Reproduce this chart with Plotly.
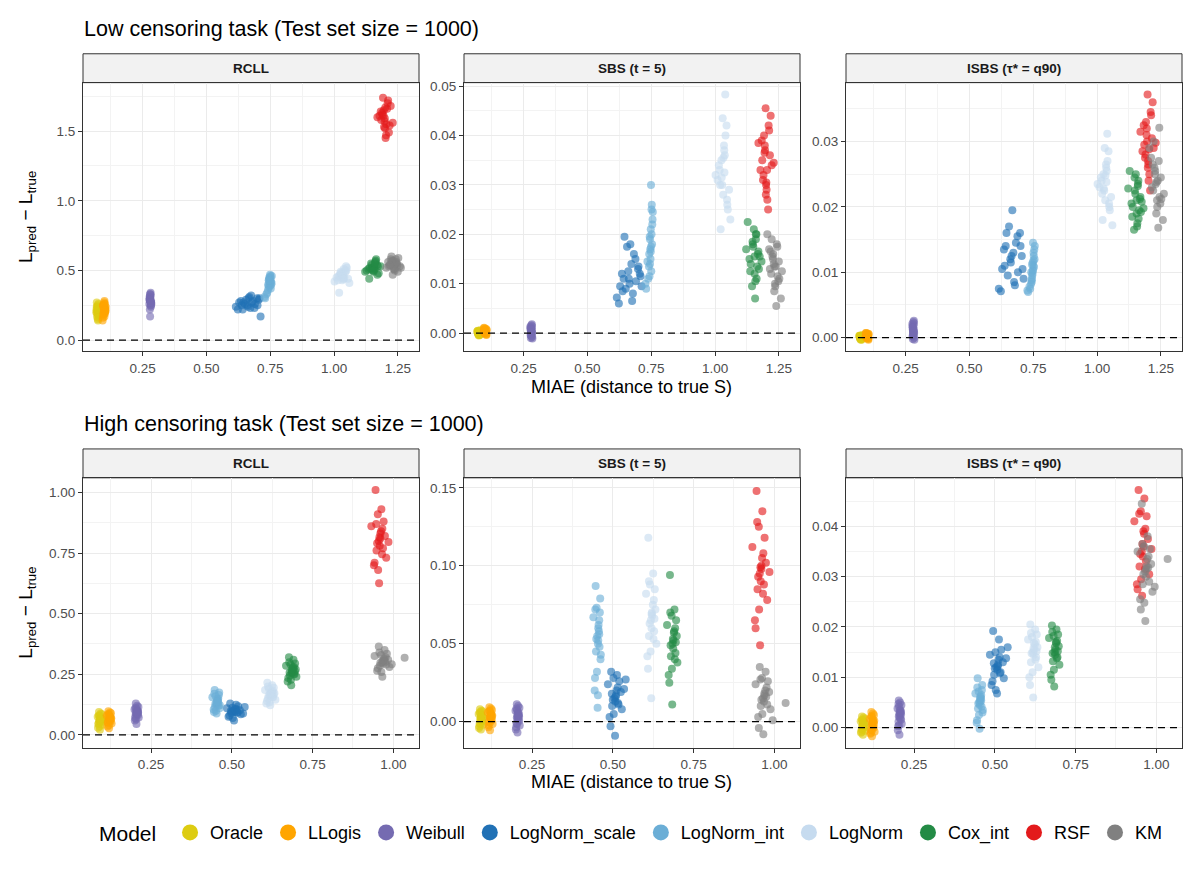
import plotly.graph_objects as go

# ---------------- data ----------------
MODELS = ["Oracle", "LLogis", "Weibull", "LogNorm_scale", "LogNorm_int",
          "LogNorm", "Cox_int", "RSF", "KM"]
COLORS = ["#DDCC11", "#FFA500", "#756BB1", "#2171B5", "#6BAED6",
          "#C6DBEF", "#238B45", "#E31A1C", "#808080"]
METRICS = ["RCLL", "SBS (t = 5)", "ISBS (τ* = q90)"]
TASKS = ["Low censoring task (Test set size = 1000)",
         "High censoring task (Test set size = 1000)"]

# ---- Low censoring task: MIAE (x), shared by the three metrics ----
lx_oracle = [0.072,0.075,0.070,0.078,0.074,0.069,0.076,0.073,0.080,0.071,0.077,0.074,0.068,0.075,0.079,0.072,0.076,0.070,0.074,0.078,0.073,0.071,0.077,0.075]
lx_llogis = [0.098,0.101,0.095,0.103,0.099,0.094,0.102,0.097,0.105,0.096,0.100,0.104,0.093,0.099,0.102,0.097,0.101,0.095,0.103,0.098,0.100,0.096,0.104,0.099]
lx_weibull = [0.279,0.281,0.277,0.283,0.280,0.278,0.282,0.279,0.276,0.281,0.283,0.278,0.280,0.282,0.277,0.279,0.281,0.284,0.278,0.280,0.282,0.279,0.277,0.281]
lx_lnscale = [0.615,0.628,0.642,0.655,0.660,0.668,0.672,0.645,0.638,0.682,0.690,0.698,0.705,0.712,0.675,0.662,0.650,0.635,0.688,0.678,0.665,0.700,0.623,0.708]
lx_lnint = [0.742,0.748,0.751,0.745,0.753,0.749,0.738,0.755,0.746,0.750,0.744,0.752,0.730,0.727,0.747,0.754,0.741,0.749,0.756,0.743,0.751,0.735,0.748,0.745]
lx_lnorm = [1.010,1.025,1.032,1.041,1.018,1.050,1.036,1.028,1.045,1.002,1.022,1.038,1.055,1.030,1.015,1.047,1.035,1.060,1.026,1.040,1.020,1.033,1.048,1.037]
lx_cox = [1.135,1.148,1.155,1.162,1.140,1.170,1.158,1.128,1.165,1.150,1.175,1.145,1.160,1.182,1.138,1.152,1.168,1.157,1.122,1.163,1.147,1.172,1.155,1.160]
lx_rsf = [1.185,1.195,1.200,1.210,1.178,1.205,1.192,1.215,1.188,1.198,1.222,1.202,1.170,1.208,1.196,1.190,1.212,1.230,1.199,1.183,1.204,1.194,1.218,1.201]
lx_km = [1.215,1.228,1.235,1.242,1.220,1.250,1.232,1.205,1.245,1.225,1.258,1.238,1.212,1.248,1.230,1.222,1.262,1.240,1.227,1.236,1.218,1.252,1.233,1.244]

# ---- Low censoring task: RCLL ----
l_rcll_oracle = [0.21,0.18,0.24,0.20,0.15,0.22,0.26,0.19,0.23,0.17,0.21,0.25,0.20,0.14,0.22,0.24,0.19,0.27,0.21,0.18,0.23,0.20,0.16,0.22]
l_rcll_llogis = [0.22,0.19,0.25,0.21,0.27,0.16,0.23,0.20,0.24,0.18,0.28,0.22,0.14,0.21,0.26,0.19,0.23,0.25,0.20,0.22,0.17,0.24,0.21,0.26]
l_rcll_weibull = [0.28,0.25,0.31,0.27,0.33,0.29,0.24,0.30,0.26,0.34,0.28,0.22,0.31,0.27,0.29,0.17,0.32,0.26,0.30,0.28,0.25,0.33,0.29,0.27]
l_rcll_lnscale = [0.24,0.27,0.22,0.29,0.25,0.31,0.23,0.27,0.25,0.28,0.26,0.30,0.29,0.17,0.32,0.24,0.26,0.28,0.23,0.27,0.30,0.25,0.22,0.30]
l_rcll_lnint = [0.40,0.44,0.46,0.38,0.42,0.47,0.34,0.41,0.45,0.39,0.43,0.37,0.30,0.31,0.44,0.40,0.36,0.42,0.46,0.39,0.45,0.33,0.41,0.43]
l_rcll_lnorm = [0.45,0.48,0.43,0.50,0.46,0.52,0.44,0.47,0.49,0.42,0.46,0.51,0.44,0.48,0.43,0.53,0.46,0.41,0.49,0.45,0.34,0.47,0.50,0.44]
l_rcll_cox = [0.51,0.54,0.49,0.56,0.52,0.47,0.53,0.50,0.58,0.52,0.48,0.55,0.51,0.53,0.44,0.50,0.54,0.52,0.49,0.57,0.51,0.53,0.50,0.55]
l_rcll_rsf = [1.58,1.65,1.52,1.70,1.61,1.55,1.74,1.49,1.63,1.57,1.68,1.45,1.60,1.66,1.53,1.62,1.72,1.56,1.59,1.64,1.47,1.61,1.54,1.67]
l_rcll_km = [0.53,0.56,0.51,0.58,0.54,0.49,0.57,0.52,0.55,0.60,0.53,0.50,0.56,0.54,0.47,0.58,0.52,0.55,0.57,0.51,0.54,0.59,0.53,0.56]

# ---- Low censoring task: SBS (t = 5) ----
l_sbs_oracle = [0.0002,-0.0003,0.0005,0.0000,-0.0005,0.0003,0.0001,-0.0002,0.0006,0.0000,-0.0004,0.0002,0.0004,-0.0001,0.0001,-0.0003,0.0003,0.0000,0.0005,-0.0002,0.0002,0.0001,-0.0004,0.0003]
l_sbs_llogis = [0.0004,0.0001,0.0008,-0.0003,0.0005,0.0010,0.0002,-0.0001,0.0006,0.0003,0.0009,-0.0004,0.0004,0.0007,0.0000,0.0005,0.0002,0.0011,-0.0002,0.0006,0.0003,0.0001,0.0008,0.0004]
l_sbs_weibull = [0.0004,-0.0006,0.0011,0.0001,0.0016,-0.0010,0.0007,-0.0002,0.0013,0.0003,-0.0008,0.0009,0.0000,0.0018,-0.0004,0.0006,0.0010,-0.0011,0.0005,0.0002,0.0014,-0.0005,0.0008,0.0001]
l_sbs_lnscale = [0.0072,0.0095,0.0110,0.0175,0.0125,0.0180,0.0140,0.0195,0.0085,0.0160,0.0105,0.0130,0.0120,0.0095,0.0065,0.0110,0.0090,0.0120,0.0150,0.0080,0.0100,0.0135,0.0060,0.0115]
l_sbs_lnint = [0.0160,0.0210,0.0250,0.0140,0.0180,0.0300,0.0110,0.0230,0.0170,0.0125,0.0195,0.0260,0.0090,0.0100,0.0150,0.0220,0.0135,0.0175,0.0245,0.0115,0.0200,0.0145,0.0165,0.0190]
l_sbs_lnorm = [0.0310,0.0350,0.0280,0.0400,0.0330,0.0250,0.0370,0.0300,0.0420,0.0320,0.0210,0.0360,0.0290,0.0435,0.0340,0.0270,0.0380,0.0230,0.0315,0.0483,0.0300,0.0355,0.0260,0.0325]
l_sbs_cox = [0.0150,0.0180,0.0120,0.0200,0.0140,0.0165,0.0105,0.0225,0.0135,0.0175,0.0155,0.0095,0.0190,0.0145,0.0125,0.0210,0.0160,0.0070,0.0170,0.0110,0.0185,0.0130,0.0155,0.0200]
l_sbs_rsf = [0.0350,0.0380,0.0300,0.0420,0.0330,0.0270,0.0400,0.0360,0.0310,0.0455,0.0340,0.0290,0.0385,0.0250,0.0370,0.0320,0.0410,0.0345,0.0280,0.0390,0.0330,0.0365,0.0440,0.0305]
l_sbs_km = [0.0130,0.0160,0.0100,0.0180,0.0120,0.0145,0.0085,0.0200,0.0115,0.0155,0.0070,0.0135,0.0170,0.0105,0.0140,0.0190,0.0125,0.0055,0.0150,0.0095,0.0165,0.0110,0.0135,0.0175]

# ---- Low censoring task: ISBS (tau* = q90) ----
l_isbs_oracle = [0.0001,-0.0002,0.0003,0.0000,-0.0003,0.0002,0.0001,-0.0001,0.0004,0.0000,-0.0002,0.0002,0.0003,-0.0001,0.0001,-0.0002,0.0002,0.0000,0.0003,-0.0001,0.0002,0.0001,-0.0003,0.0002]
l_isbs_llogis = [0.0003,0.0001,0.0006,-0.0002,0.0004,0.0007,0.0002,-0.0001,0.0005,0.0002,0.0006,-0.0003,0.0003,0.0005,0.0000,0.0004,0.0001,0.0007,-0.0001,0.0004,0.0002,0.0001,0.0006,0.0003]
l_isbs_weibull = [0.0010,0.0004,0.0018,0.0007,0.0024,-0.0002,0.0013,0.0005,0.0021,0.0009,0.0000,0.0016,0.0006,0.0026,0.0002,0.0011,0.0019,-0.0003,0.0012,0.0008,0.0022,0.0003,0.0015,0.0010]
l_isbs_lnscale = [0.0075,0.0105,0.0140,0.0170,0.0120,0.0195,0.0130,0.0160,0.0110,0.0145,0.0100,0.0160,0.0125,0.0090,0.0085,0.0115,0.0095,0.0135,0.0155,0.0080,0.0125,0.0140,0.0071,0.0105]
l_isbs_lnint = [0.0100,0.0115,0.0130,0.0090,0.0108,0.0145,0.0075,0.0120,0.0095,0.0110,0.0085,0.0125,0.0070,0.0072,0.0098,0.0135,0.0082,0.0104,0.0140,0.0088,0.0118,0.0078,0.0102,0.0112]
l_isbs_lnorm = [0.0230,0.0250,0.0210,0.0270,0.0240,0.0195,0.0260,0.0225,0.0285,0.0235,0.0180,0.0255,0.0215,0.0290,0.0245,0.0205,0.0265,0.0172,0.0228,0.0312,0.0220,0.0248,0.0200,0.0238]
l_isbs_cox = [0.0205,0.0225,0.0190,0.0240,0.0200,0.0215,0.0175,0.0255,0.0195,0.0220,0.0208,0.0165,0.0235,0.0198,0.0185,0.0250,0.0212,0.0170,0.0228,0.0182,0.0245,0.0192,0.0210,0.0232]
l_isbs_rsf = [0.0295,0.0320,0.0270,0.0345,0.0285,0.0250,0.0330,0.0305,0.0275,0.0372,0.0290,0.0240,0.0315,0.0225,0.0300,0.0280,0.0340,0.0298,0.0260,0.0325,0.0288,0.0310,0.0360,0.0265]
l_isbs_km = [0.0230,0.0255,0.0210,0.0270,0.0225,0.0245,0.0190,0.0290,0.0215,0.0260,0.0180,0.0240,0.0275,0.0205,0.0235,0.0300,0.0220,0.0168,0.0250,0.0200,0.0265,0.0212,0.0238,0.0321]

# ---- High censoring task: MIAE (x) ----
hx_oracle = [0.091,0.094,0.088,0.097,0.092,0.086,0.095,0.090,0.099,0.089,0.093,0.096,0.085,0.092,0.098,0.090,0.094,0.087,0.093,0.097,0.091,0.089,0.095,0.092]
hx_llogis = [0.120,0.123,0.117,0.126,0.121,0.115,0.124,0.119,0.128,0.118,0.122,0.125,0.113,0.120,0.127,0.119,0.123,0.116,0.122,0.126,0.120,0.118,0.124,0.121]
hx_weibull = [0.205,0.208,0.202,0.211,0.206,0.200,0.209,0.204,0.212,0.203,0.207,0.210,0.199,0.205,0.209,0.203,0.207,0.201,0.206,0.210,0.204,0.202,0.208,0.205]
hx_lnscale = [0.505,0.512,0.498,0.520,0.508,0.490,0.515,0.502,0.528,0.495,0.510,0.518,0.485,0.507,0.525,0.500,0.513,0.493,0.535,0.509,0.503,0.540,0.516,0.497]
hx_lnint = [0.452,0.456,0.448,0.460,0.454,0.445,0.458,0.450,0.462,0.447,0.455,0.459,0.440,0.453,0.457,0.449,0.461,0.444,0.455,0.458,0.451,0.446,0.463,0.454]
hx_lnorm = [0.618,0.624,0.612,0.630,0.620,0.607,0.627,0.615,0.635,0.610,0.622,0.628,0.603,0.619,0.632,0.614,0.625,0.609,0.621,0.629,0.617,0.612,0.626,0.620]
hx_cox = [0.685,0.690,0.680,0.696,0.687,0.673,0.693,0.682,0.700,0.677,0.688,0.694,0.668,0.684,0.698,0.679,0.691,0.675,0.689,0.695,0.683,0.678,0.692,0.686]
hx_rsf = [0.955,0.962,0.948,0.970,0.958,0.940,0.966,0.952,0.978,0.945,0.960,0.968,0.932,0.956,0.974,0.950,0.963,0.942,0.960,0.985,0.953,0.947,0.965,0.957]
hx_km = [0.965,0.972,0.958,0.980,0.968,0.950,0.976,0.962,0.988,0.955,0.970,0.978,0.942,0.966,0.984,0.960,0.973,0.952,1.035,0.975,0.963,0.957,0.995,0.969]

# ---- High censoring task: RCLL ----
h_rcll_oracle = [0.060,0.072,0.048,0.085,0.055,0.030,0.068,0.078,0.042,0.095,0.062,0.052,0.075,0.022,0.065,0.058,0.088,0.045,0.070,0.063,0.035,0.080,0.057,0.066]
h_rcll_llogis = [0.065,0.078,0.052,0.090,0.060,0.035,0.072,0.083,0.047,0.098,0.066,0.056,0.080,0.028,0.069,0.062,0.093,0.050,0.075,0.068,0.040,0.086,0.061,0.071]
h_rcll_weibull = [0.090,0.102,0.078,0.115,0.085,0.060,0.098,0.108,0.072,0.130,0.092,0.082,0.105,0.045,0.095,0.088,0.120,0.070,0.100,0.093,0.065,0.112,0.087,0.096]
h_rcll_lnscale = [0.100,0.108,0.090,0.118,0.095,0.075,0.105,0.112,0.085,0.130,0.098,0.092,0.110,0.060,0.102,0.096,0.125,0.080,0.088,0.104,0.070,0.115,0.094,0.099]
h_rcll_lnint = [0.130,0.145,0.115,0.165,0.125,0.095,0.150,0.160,0.110,0.185,0.135,0.120,0.155,0.088,0.140,0.128,0.175,0.105,0.148,0.133,0.100,0.170,0.122,0.138]
h_rcll_lnorm = [0.165,0.178,0.150,0.195,0.160,0.130,0.182,0.190,0.145,0.215,0.168,0.155,0.185,0.122,0.172,0.162,0.205,0.140,0.175,0.168,0.135,0.200,0.158,0.170]
h_rcll_cox = [0.260,0.275,0.245,0.295,0.255,0.220,0.280,0.290,0.240,0.320,0.265,0.250,0.285,0.205,0.270,0.258,0.310,0.235,0.278,0.262,0.228,0.300,0.252,0.268]
h_rcll_rsf = [0.800,0.840,0.760,0.880,0.780,0.700,0.850,0.910,0.730,1.010,0.810,0.770,0.860,0.625,0.820,0.790,0.930,0.710,0.830,0.795,0.680,0.870,0.745,0.815]
h_rcll_km = [0.300,0.315,0.285,0.335,0.295,0.265,0.320,0.330,0.280,0.365,0.305,0.290,0.325,0.240,0.310,0.298,0.350,0.275,0.318,0.302,0.260,0.340,0.292,0.308]

# ---- High censoring task: SBS (t = 5) ----
h_sbs_oracle = [0.0020,0.0045,-0.0010,0.0065,0.0010,-0.0040,0.0035,0.0055,-0.0020,0.0080,0.0025,0.0000,0.0050,-0.0050,0.0030,0.0015,0.0070,-0.0030,0.0040,0.0022,-0.0015,0.0060,0.0005,0.0028]
h_sbs_llogis = [0.0030,0.0055,0.0000,0.0075,0.0020,-0.0035,0.0045,0.0065,-0.0015,0.0092,0.0035,0.0010,0.0060,-0.0055,0.0040,0.0025,0.0085,-0.0025,0.0050,0.0032,-0.0005,0.0070,0.0015,0.0038]
h_sbs_weibull = [0.0030,0.0060,-0.0010,0.0090,0.0020,-0.0050,0.0050,0.0075,-0.0025,0.0112,0.0035,0.0005,0.0070,-0.0070,0.0040,0.0025,0.0100,-0.0035,0.0055,0.0032,-0.0015,0.0085,0.0012,0.0045]
h_sbs_lnscale = [0.015,0.020,0.010,0.026,0.013,0.003,0.022,0.028,0.008,0.032,0.017,0.011,0.024,-0.009,0.019,0.014,0.030,-0.003,0.021,0.016,0.005,0.027,0.012,0.018]
h_sbs_lnint = [0.055,0.062,0.045,0.070,0.050,0.028,0.065,0.073,0.040,0.087,0.052,0.048,0.067,0.009,0.058,0.053,0.079,0.020,0.060,0.056,0.032,0.072,0.043,0.017]
h_sbs_lnorm = [0.065,0.075,0.055,0.085,0.060,0.042,0.078,0.088,0.050,0.118,0.068,0.058,0.082,0.015,0.072,0.063,0.095,0.034,0.070,0.066,0.045,0.090,0.053,0.069]
h_sbs_cox = [0.050,0.058,0.042,0.065,0.047,0.030,0.060,0.068,0.038,0.094,0.052,0.044,0.062,0.011,0.055,0.049,0.072,0.025,0.057,0.051,0.034,0.070,0.040,0.053]
h_sbs_rsf = [0.095,0.105,0.085,0.118,0.090,0.065,0.108,0.125,0.078,0.148,0.098,0.088,0.112,0.049,0.102,0.093,0.135,0.060,0.100,0.096,0.072,0.128,0.082,0.099]
h_sbs_km = [0.015,0.020,0.010,0.026,0.013,0.003,0.022,0.028,0.008,0.035,0.017,0.011,0.024,-0.008,0.019,0.014,0.032,-0.004,0.012,0.016,0.005,0.027,0.001,0.018]

# ---- High censoring task: ISBS (tau* = q90) ----
h_isbs_oracle = [0.0005,0.0012,-0.0003,0.0018,0.0002,-0.0010,0.0009,0.0015,-0.0006,0.0022,0.0007,0.0000,0.0013,-0.0014,0.0010,0.0004,0.0020,-0.0008,0.0011,0.0006,-0.0004,0.0016,0.0001,0.0008]
h_isbs_llogis = [0.0007,0.0016,-0.0004,0.0025,0.0003,-0.0012,0.0012,0.0021,-0.0008,0.0031,0.0009,0.0000,0.0018,-0.0017,0.0014,0.0005,0.0028,-0.0010,0.0015,0.0008,-0.0005,0.0023,0.0002,0.0011]
h_isbs_weibull = [0.0025,0.0035,0.0012,0.0045,0.0020,-0.0005,0.0032,0.0042,0.0008,0.0054,0.0028,0.0016,0.0038,-0.0014,0.0030,0.0022,0.0050,0.0003,0.0034,0.0026,0.0005,0.0047,0.0018,0.0029]
h_isbs_lnscale = [0.0120,0.0135,0.0105,0.0155,0.0115,0.0085,0.0140,0.0150,0.0098,0.0192,0.0125,0.0110,0.0145,0.0068,0.0130,0.0118,0.0175,0.0092,0.0138,0.0122,0.0075,0.0160,0.0108,0.0128]
h_isbs_lnint = [0.0050,0.0062,0.0038,0.0075,0.0045,0.0015,0.0065,0.0072,0.0030,0.0098,0.0052,0.0042,0.0068,-0.0002,0.0058,0.0048,0.0085,0.0010,0.0060,0.0054,0.0025,0.0080,0.0035,0.0056]
h_isbs_lnorm = [0.0150,0.0165,0.0130,0.0185,0.0145,0.0100,0.0170,0.0180,0.0120,0.0205,0.0155,0.0140,0.0175,0.0060,0.0160,0.0148,0.0195,0.0085,0.0168,0.0152,0.0110,0.0188,0.0135,0.0158]
h_isbs_cox = [0.0150,0.0168,0.0132,0.0185,0.0145,0.0105,0.0172,0.0182,0.0125,0.0203,0.0155,0.0140,0.0178,0.0082,0.0162,0.0148,0.0195,0.0095,0.0170,0.0152,0.0115,0.0190,0.0138,0.0160]
h_isbs_rsf = [0.0350,0.0385,0.0320,0.0420,0.0340,0.0285,0.0395,0.0430,0.0305,0.0472,0.0360,0.0330,0.0410,0.0262,0.0375,0.0345,0.0455,0.0275,0.0390,0.0355,0.0295,0.0425,0.0315,0.0365]
h_isbs_km = [0.0310,0.0335,0.0285,0.0355,0.0300,0.0255,0.0340,0.0360,0.0270,0.0445,0.0315,0.0290,0.0350,0.0212,0.0325,0.0305,0.0380,0.0235,0.0335,0.0318,0.0248,0.0365,0.0280,0.0320]

LOW_X = [lx_oracle, lx_llogis, lx_weibull, lx_lnscale, lx_lnint, lx_lnorm, lx_cox, lx_rsf, lx_km]
HIGH_X = [hx_oracle, hx_llogis, hx_weibull, hx_lnscale, hx_lnint, hx_lnorm, hx_cox, hx_rsf, hx_km]
LOW_Y = [
    [l_rcll_oracle, l_rcll_llogis, l_rcll_weibull, l_rcll_lnscale, l_rcll_lnint, l_rcll_lnorm, l_rcll_cox, l_rcll_rsf, l_rcll_km],
    [l_sbs_oracle, l_sbs_llogis, l_sbs_weibull, l_sbs_lnscale, l_sbs_lnint, l_sbs_lnorm, l_sbs_cox, l_sbs_rsf, l_sbs_km],
    [l_isbs_oracle, l_isbs_llogis, l_isbs_weibull, l_isbs_lnscale, l_isbs_lnint, l_isbs_lnorm, l_isbs_cox, l_isbs_rsf, l_isbs_km],
]
HIGH_Y = [
    [h_rcll_oracle, h_rcll_llogis, h_rcll_weibull, h_rcll_lnscale, h_rcll_lnint, h_rcll_lnorm, h_rcll_cox, h_rcll_rsf, h_rcll_km],
    [h_sbs_oracle, h_sbs_llogis, h_sbs_weibull, h_sbs_lnscale, h_sbs_lnint, h_sbs_lnorm, h_sbs_cox, h_sbs_rsf, h_sbs_km],
    [h_isbs_oracle, h_isbs_llogis, h_isbs_weibull, h_isbs_lnscale, h_isbs_lnint, h_isbs_lnorm, h_isbs_cox, h_isbs_rsf, h_isbs_km],
]

# ---------------- layout geometry ----------------
W, H = 1200, 873
FONT = "Liberation Sans, Arial, Helvetica, sans-serif"
COL_PX = [(83, 419), (464, 800), (846, 1182)]
ROW_PX = [(79, 349), (476, 747)]
STRIP_H = 29
TITLE_Y = [25, 422]
XTITLE_Y = [385, 782]

X_RANGES = [[0.016, 1.333], [0.0395, 1.0795]]
Y_SETUP = [  # (range, dtick, format) per row, metric
    [([-0.081, 1.848], 0.5, ".1f"), ([-0.0037, 0.0507], 0.01, ".2f"), ([-0.0021, 0.0390], 0.01, ".2f")],
    [([-0.052, 1.060], 0.25, ".2f"), ([-0.0166, 0.1564], 0.05, ".2f"), ([-0.00395, 0.04963], 0.01, ".2f")],
]


def fx(p):
    return p / W


def fy(p):
    return 1 - p / H


fig = go.Figure()
shapes, annotations = [], []
layout = {}

tickfont = dict(family=FONT, size=13.5, color="#4D4D4D")
for r in range(2):
    xs_all = LOW_X if r == 0 else HIGH_X
    ys_all = LOW_Y if r == 0 else HIGH_Y
    top, bot = ROW_PX[r]
    for c in range(3):
        k = r * 3 + c + 1
        sx = "" if k == 1 else str(k)
        left, right = COL_PX[c]
        yr, ydt, yfmt = Y_SETUP[r][c]
        common = dict(showgrid=True, gridcolor="#EBEBEB", gridwidth=1, zeroline=False,
                      showline=True, mirror=True, linecolor="#333333", linewidth=1,
                      ticks="outside", ticklen=4, tickwidth=1, tickcolor="#333333",
                      tickfont=tickfont, fixedrange=True)
        layout["xaxis" + sx] = dict(common, domain=[fx(left), fx(right)], anchor="y" + sx,
                                    range=X_RANGES[r], tick0=0, dtick=0.25, tickformat=".2f",
                                    minor=dict(tick0=0, dtick=0.125, showgrid=True,
                                               gridcolor="#F3F3F3", gridwidth=1, ticks=""))
        layout["yaxis" + sx] = dict(common, domain=[fy(bot), fy(top)], anchor="x" + sx,
                                    range=yr, tick0=0, dtick=ydt, tickformat=yfmt,
                                    minor=dict(tick0=0, dtick=ydt / 2, showgrid=True,
                                               gridcolor="#F3F3F3", gridwidth=1, ticks=""))
        for m in range(len(MODELS)):
            fig.add_trace(go.Scatter(
                x=xs_all[m], y=ys_all[c][m], mode="markers",
                marker=dict(color=COLORS[m], size=8, opacity=0.62, line=dict(width=0)),
                name=MODELS[m], showlegend=False, hoverinfo="skip",
                xaxis="x" + sx, yaxis="y" + sx))
        # zero reference line
        shapes.append(dict(type="line", xref="x" + sx + " domain", yref="y" + sx,
                           x0=0, x1=1, y0=0, y1=0,
                           line=dict(color="black", width=1.2, dash="7px,5px")))
        # strip
        shapes.append(dict(type="rect", xref="paper", yref="paper",
                           x0=fx(left), x1=fx(right), y0=fy(top), y1=fy(top - STRIP_H),
                           fillcolor="#F2F2F2", line=dict(color="#333333", width=1), layer="below"))
        annotations.append(dict(text="<b>" + METRICS[c] + "</b>", xref="paper", yref="paper",
                                x=fx((left + right) / 2), y=fy(top - STRIP_H / 2),
                                xanchor="center", yanchor="middle", showarrow=False,
                                font=dict(family=FONT, size=13.5, color="#1A1A1A")))
    # row title
    annotations.append(dict(text=TASKS[r], xref="paper", yref="paper", x=fx(COL_PX[0][0]) - 0.001,
                            y=fy(TITLE_Y[r]), xanchor="left", yanchor="middle", showarrow=False,
                            font=dict(family=FONT, size=21.5, color="black")))
    # y-axis title
    annotations.append(dict(text="L<sub>pred</sub> − L<sub>true</sub>", xref="paper", yref="paper",
                            x=fx(27), y=fy((top + bot) / 2), xanchor="center", yanchor="middle",
                            textangle=-90, showarrow=False,
                            font=dict(family=FONT, size=19, color="black")))
    # x-axis title (middle column only)
    annotations.append(dict(text="MIAE (distance to true S)", xref="paper", yref="paper",
                            x=fx((COL_PX[1][0] + COL_PX[1][1]) / 2), y=fy(XTITLE_Y[r]),
                            xanchor="center", yanchor="middle", showarrow=False,
                            font=dict(family=FONT, size=18, color="black")))

# legend entries
for m in range(len(MODELS)):
    fig.add_trace(go.Scatter(x=[None], y=[None], mode="markers",
                             marker=dict(color=COLORS[m], size=18), name=MODELS[m],
                             showlegend=True, hoverinfo="skip"))

fig.update_layout(
    width=W, height=H,
    margin=dict(l=0, r=0, t=0, b=0),
    paper_bgcolor="white", plot_bgcolor="white",
    font=dict(family=FONT, color="black"),
    shapes=shapes, annotations=annotations,
    showlegend=True,
    legend=dict(orientation="h", x=fx(632), xanchor="center", y=fy(833), yanchor="middle",
                title=dict(text="Model ", side="left", font=dict(family=FONT, size=21, color="black")),
                font=dict(family=FONT, size=18, color="black"), bgcolor="rgba(0,0,0,0)",
                itemclick=False, itemdoubleclick=False),
    **layout,
)

fig.write_html("out.html")
